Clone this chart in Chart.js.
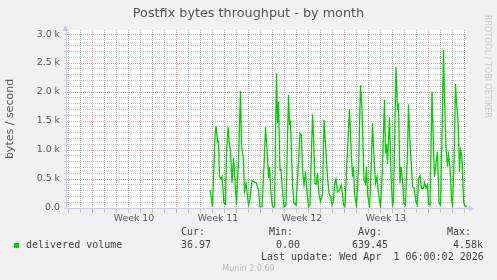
<!DOCTYPE html>
<html><head><meta charset="utf-8">
<script src="https://cdn.jsdelivr.net/npm/chart.js@4.4.1/dist/chart.umd.min.js"></script>
<style>
html,body{margin:0;padding:0;background:#f0f0f0;}
#wrap{position:relative;width:497px;height:280px;overflow:hidden;background:#f0f0f0;}
canvas{position:absolute;left:0;top:0;}
.m{position:absolute;white-space:pre;font-family:"DejaVu Sans Mono",monospace;font-size:10px;line-height:12px;color:#444;}
#title{position:absolute;left:0;width:497px;top:5px;text-align:center;font-family:"DejaVu Sans",sans-serif;font-size:12.8px;line-height:16px;color:#555;}
#side{position:absolute;left:482px;top:15px;writing-mode:vertical-rl;font-family:"DejaVu Sans",sans-serif;font-size:8px;line-height:10px;color:#c8c8c8;}
#munin{position:absolute;left:0;width:497px;top:264px;text-align:center;font-family:"DejaVu Sans",sans-serif;font-size:8px;line-height:10px;color:#bbb;}
#sq{position:absolute;left:14px;top:243px;width:5px;height:5px;background:#00cc00;}
</style></head><body>
<div id="wrap">
<canvas id="c" width="497" height="280"></canvas>
<div id="title">Postfix bytes throughput - by month</div>
<div id="side">RRDTOOL / TOBI OETIKER</div>
<div id="sq"></div>
<div class="m" style="left:26px;top:239px">delivered volume</div>
<div class="m" style="left:181px;top:226px">Cur:</div>
<div class="m" style="left:269px;top:226px">Min:</div>
<div class="m" style="left:358px;top:226px">Avg:</div>
<div class="m" style="left:447px;top:226px">Max:</div>
<div class="m" style="left:181px;top:239px">36.97</div>
<div class="m" style="left:276px;top:239px">0.00</div>
<div class="m" style="left:352px;top:239px">639.45</div>
<div class="m" style="left:453px;top:239px">4.58k</div>
<div class="m" style="left:261px;top:251px">Last update: Wed Apr  1 06:00:02 2026</div>
<div id="munin">Munin 2.0.69</div>
</div>
<script>
// time in hours since the start (Monday 00:00) of Week 10
const hoursSinceWeek10 = [236,241,246,248,251,253,255,258,260,264,267,269,272,275,277,280,283,285,289,293,297,299,303,305,308,313,316,320,324,329,333,336,340,344,347,351,353,355,358,361,365,369,371,373,376,378,381,384,388,393,395,397,401,404,408,412,416,419,421,424,427,429,433,436,441,443,446,449,451,454,457,461,464,468,471,474,477,480,483,485,488,491,495,499,503,506,509,515,518,521,523,525,529,533,537,540,544,547,549,551,555,557,561,563,567,570,573,577,580,585,587,589,591,595,598,601,603,608,611,613,616,618,621,624,627,631,633,636,639,641,644,648,651,653,656,659,663,665,668,671,673,676,680,683,685,688,691,694,697,700,703,705,708,711,713,716,719,721,724,727,729,732,735,737,740,743,745,748,750];
// delivered volume, bytes / second
const deliveredVolume = [310,20,1230,1414,1143,1150,540,500,540,86,60,948,1391,1086,1000,431,857,603,52,820,2017,1086,830,281,430,52,140,471,450,430,310,20,20,720,1391,885,517,712,250,20,20,2322,1466,1833,655,665,310,20,50,1948,1460,1490,425,80,50,655,1288,1250,655,397,630,370,20,50,1615,1250,425,414,598,230,110,230,1517,971,540,250,200,50,110,397,495,280,310,397,60,20,640,1701,1057,540,712,250,20,680,2121,1690,483,420,712,250,20,340,1460,1057,425,540,250,20,483,1862,943,1100,759,1563,540,50,110,2437,1690,1800,425,712,483,80,50,943,1787,1115,712,368,350,110,50,512,560,340,340,437,340,397,80,50,2007,1000,540,770,971,80,50,1230,2724,1920,1057,712,914,712,140,50,770,2138,1800,1517,626,1000,885,140,50,20,37];
const weekLabels = ['Week 10','Week 11','Week 12','Week 13'];
const weekStartHours = [0,168,336,504];
const xRangeHours = [-52, 750];
const yMaxValue = 3000;

const RED = '#e6a6a6';
const GRAY = '#cdcdcd';
const GRAY_V = '#b4b4b4';
const AXIS = '#c8c8f4';

const midWeek = weekStartHours.map(h => h + 84);

const decor = {
  id: 'decor',
  beforeDraw(chart) {
    const a = chart.chartArea, c = chart.ctx;
    c.save(); c.fillStyle = '#ffffff';
    c.fillRect(a.left, a.top, a.right - a.left, a.bottom - a.top);
    c.restore();
  },
  afterDraw(chart) {
    const a = chart.chartArea, c = chart.ctx;
    c.save();
    c.fillStyle = AXIS; c.strokeStyle = AXIS; c.lineWidth = 1;
    c.beginPath(); c.moveTo(a.right, a.bottom + 0.5); c.lineTo(a.right + 3, a.bottom + 0.5); c.stroke();
    c.beginPath(); c.moveTo(a.right + 7, a.bottom + 0.5); c.lineTo(a.right + 2, a.bottom - 2.5); c.lineTo(a.right + 2, a.bottom + 3.5); c.closePath(); c.fill();
    c.beginPath(); c.moveTo(a.left - 0.5, a.top - 5); c.lineTo(a.left - 3.5, a.top + 1); c.lineTo(a.left + 2.5, a.top + 1); c.closePath(); c.fill();
    c.restore();
  }
};

new Chart(document.getElementById('c'), {
  type: 'line',
  data: {
    datasets: [{
      label: 'delivered volume',
      data: hoursSinceWeek10.map((h, i) => ({x: h, y: deliveredVolume[i]})),
      borderColor: '#00cc00',
      borderWidth: 1.3,
      pointRadius: 0,
      tension: 0,
      fill: false
    }]
  },
  options: {
    responsive: false,
    animation: false,
    devicePixelRatio: 1,
    layout: {padding: {left: 0, top: 30, right: 30, bottom: 52}},
    plugins: {legend: {display: false}, title: {display: false}, tooltip: {enabled: false}},
    scales: {
      x: {
        type: 'linear',
        min: xRangeHours[0], max: xRangeHours[1],
        afterBuildTicks(s) {
          const t = [];
          for (let h = Math.ceil(xRangeHours[0] / 24) * 24; h <= xRangeHours[1]; h += 24) t.push(h);
          midWeek.forEach(h => t.push(h));
          t.sort((p, q) => p - q);
          s.ticks = t.map(v => ({value: v}));
        },
        afterFit(s) { s.height = 20; },
        ticks: {
          autoSkip: false, maxRotation: 0, padding: 0,
          color: '#555', font: {family: 'DejaVu Sans', size: 9.4},
          callback(v) { const i = midWeek.indexOf(v); return i >= 0 ? weekLabels[i] : ''; }
        },
        grid: {
          color(ctx) { const v = ctx.tick.value; if (midWeek.includes(v)) return 'rgba(0,0,0,0)'; return v % 168 === 0 ? RED : GRAY_V; },
          tickColor(ctx) { const v = ctx.tick.value; if (midWeek.includes(v)) return 'rgba(0,0,0,0)'; return v % 168 === 0 ? '#e89a9a' : '#c4c4c4'; },
          tickLength: 5,
          lineWidth: 1
        },
        border: {display: true, color: AXIS, width: 1, dash: [1, 1]}
      },
      y: {
        type: 'linear',
        min: 0, max: 3070,
        afterBuildTicks(s) {
          const t = [];
          for (let v = 0; v <= yMaxValue; v += 100) t.push({value: v});
          s.ticks = t;
        },
        afterFit(s) { s.width = 66; },
        title: {display: true, text: 'bytes / second', color: '#555', font: {family: 'DejaVu Sans', size: 11}, padding: {top: 4, bottom: 0}},
        ticks: {
          autoSkip: false, padding: 4,
          color: '#555', font: {family: 'DejaVu Sans', size: 9.4},
          callback(v) { if (v % 500 !== 0) return ''; return v === 0 ? '0.0' : (v / 1000).toFixed(1) + ' k'; }
        },
        grid: {
          color(ctx) { const v = ctx.tick.value; if (v === 0) return 'rgba(0,0,0,0)'; return v % 500 === 0 ? RED : GRAY; },
          tickColor: '#d0d0d0',
          tickLength: 2,
          lineWidth: 1
        },
        border: {display: true, color: AXIS, width: 1, dash: [1, 1]}
      }
    }
  },
  plugins: [decor]
});
</script>
</body></html>
